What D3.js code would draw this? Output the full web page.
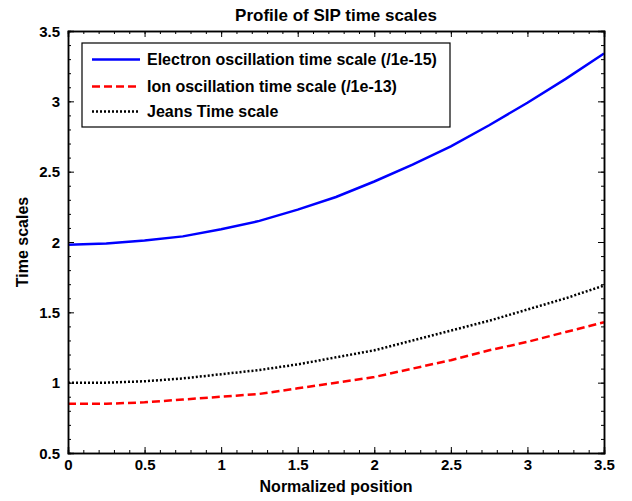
<!DOCTYPE html>
<html><head><meta charset="utf-8">
<script src="https://cdn.jsdelivr.net/npm/d3@7"></script>
<style>
html,body{margin:0;padding:0;background:#fff;}
svg{display:block;font-family:"Liberation Sans",Arial,Helvetica,sans-serif;font-weight:bold;}
</style></head>
<body><svg id="c" width="632" height="501"></svg>
<script>
const positions = [0,0.25,0.5,0.75,1,1.25,1.5,1.75,2,2.25,2.5,2.75,3,3.25,3.5];
const electron = [1.98,1.99,2.01,2.04,2.09,2.15,2.23,2.32,2.43,2.55,2.68,2.83,2.99,3.16,3.34];
const ion      = [0.85,0.85,0.86,0.88,0.90,0.92,0.96,1.00,1.04,1.10,1.16,1.23,1.29,1.36,1.43];
const jeans    = [1.00,1.00,1.01,1.03,1.06,1.09,1.13,1.18,1.23,1.30,1.37,1.44,1.52,1.60,1.69];
const seriesNames = ["Electron oscillation time scale (/1e-15)","Ion oscillation time scale (/1e-13)","Jeans Time scale"];
const xTicks = [0,0.5,1,1.5,2,2.5,3,3.5];
const yTicks = [0.5,1,1.5,2,2.5,3,3.5];
const title = "Profile of SIP time scales";
const xLabel = "Normalized position";
const yLabel = "Time scales";

const svg = d3.select("#c");
const L=68, R=604, T=31, B=453;
const x = d3.scaleLinear().domain([0,3.5]).range([L,R]);
const y = d3.scaleLinear().domain([0.5,3.5]).range([B,T]);

const styles = [
  {color:"#0000ff", dash:null},
  {color:"#ff0000", dash:"8,4"},
  {color:"#000000", dash:"2,2"}
];
const data = [electron, ion, jeans];

const line = d3.line().x((d,i)=>x(positions[i])).y(d=>y(d));
const g = svg.append("g");
data.forEach((s,k)=>{
  g.append("path").datum(s).attr("d",line).attr("fill","none")
   .attr("stroke",styles[k].color).attr("stroke-width",2.5)
   .attr("stroke-dasharray",styles[k].dash);
});

// axes with inward ticks
const minorX = d3.range(0,3.5001,0.1).map(v=>+v.toFixed(2));
const minorY = d3.range(0.5,3.5001,0.1).map(v=>+v.toFixed(2));
const axB = svg.append("g").attr("transform",`translate(0,${B})`)
  .call(d3.axisBottom(x).tickValues(xTicks).tickSize(-6).tickPadding(6).tickFormat(d3.format("")));
const axT = svg.append("g").attr("transform",`translate(0,${T})`)
  .call(d3.axisTop(x).tickValues(xTicks).tickSize(-6).tickFormat(""));
const axL = svg.append("g").attr("transform",`translate(${L},0)`)
  .call(d3.axisLeft(y).tickValues(yTicks).tickSize(-6).tickPadding(8).tickFormat(d3.format("")));
const axR = svg.append("g").attr("transform",`translate(${R},0)`)
  .call(d3.axisRight(y).tickValues(yTicks).tickSize(-6).tickFormat(""));
svg.append("g").attr("transform",`translate(0,${B})`).call(d3.axisBottom(x).tickValues(minorX).tickSize(-3).tickFormat(""));
svg.append("g").attr("transform",`translate(0,${T})`).call(d3.axisTop(x).tickValues(minorX).tickSize(-3).tickFormat(""));
svg.append("g").attr("transform",`translate(${L},0)`).call(d3.axisLeft(y).tickValues(minorY).tickSize(-3).tickFormat(""));
svg.append("g").attr("transform",`translate(${R},0)`).call(d3.axisRight(y).tickValues(minorY).tickSize(-3).tickFormat(""));
svg.selectAll(".domain").attr("stroke","#000").attr("stroke-width",1.5);
svg.selectAll(".tick line").attr("stroke","#000").attr("stroke-width",1);
svg.selectAll(".tick text").attr("font-size",15).attr("font-weight","bold").attr("fill","#000")
  .attr("font-family","Liberation Sans, Arial, sans-serif");
axL.selectAll(".tick text").attr("dy","0.35em");
axB.selectAll(".tick text").attr("dy","0.72em");

// title and labels
svg.append("text").attr("x",(L+R)/2).attr("y",21).attr("text-anchor","middle")
  .attr("font-size",17).text(title);
svg.append("text").attr("x",(L+R)/2).attr("y",492).attr("text-anchor","middle")
  .attr("font-size",16).text(xLabel);
svg.append("text").attr("transform",`translate(28,${(T+B)/2}) rotate(-90)`).attr("text-anchor","middle")
  .attr("font-size",16).text(yLabel);

// legend
const lg = svg.append("g");
lg.append("rect").attr("x",82).attr("y",43).attr("width",368).attr("height",84)
  .attr("fill","#fff").attr("stroke","#000").attr("stroke-width",1.2);
const rowsY = [59.5,86.5,111.5];
seriesNames.forEach((n,k)=>{
  lg.append("line").attr("x1",92).attr("x2",140).attr("y1",rowsY[k]).attr("y2",rowsY[k])
    .attr("stroke",styles[k].color).attr("stroke-width",2.5).attr("stroke-dasharray",styles[k].dash);
  lg.append("text").attr("x",147).attr("y",rowsY[k]).attr("dy","0.35em")
    .attr("font-size",16).text(n);
});
</script></body></html>
